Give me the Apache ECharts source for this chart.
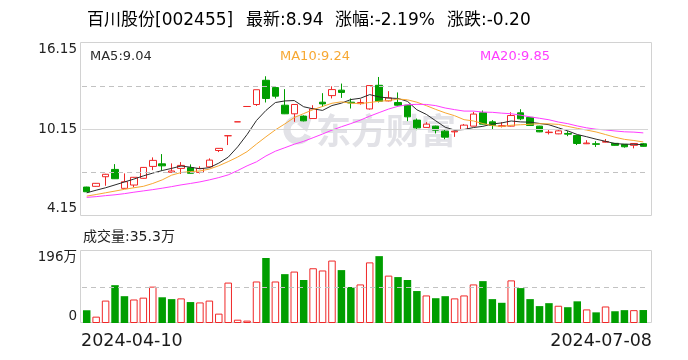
<!DOCTYPE html>
<html>
<head>
<meta charset="utf-8">
<script src="https://cdn.jsdelivr.net/npm/echarts@6/dist/echarts.min.js"></script>
<style>
html,body{margin:0;padding:0;background:#fff;}
#main{width:688px;height:360px;}
</style>
</head>
<body>
<div id="main"></div>
<script>
// ---------- data ----------
const stockName = '百川股份';
const stockCode = '002455';
const dates = ['2024-04-10','2024-04-11','2024-04-12','2024-04-15','2024-04-16','2024-04-17','2024-04-18','2024-04-19','2024-04-22','2024-04-23',
'2024-04-24','2024-04-25','2024-04-26','2024-04-29','2024-04-30','2024-05-06','2024-05-07','2024-05-08','2024-05-09','2024-05-10',
'2024-05-13','2024-05-14','2024-05-15','2024-05-16','2024-05-17','2024-05-20','2024-05-21','2024-05-22','2024-05-23','2024-05-24',
'2024-05-27','2024-05-28','2024-05-29','2024-05-30','2024-05-31','2024-06-03','2024-06-04','2024-06-05','2024-06-06','2024-06-07',
'2024-06-11','2024-06-12','2024-06-13','2024-06-14','2024-06-17','2024-06-18','2024-06-19','2024-06-20','2024-06-21','2024-06-24',
'2024-06-25','2024-06-26','2024-06-27','2024-06-28','2024-07-01','2024-07-02','2024-07-03','2024-07-04','2024-07-05','2024-07-08'];
const openP = [6.10,6.15,6.82,7.33,6.01,6.24,6.71,7.54,7.72,7.13, 7.40,7.45,7.12,7.51,8.65,9.68,10.65,11.72,11.86,13.55,
13.04,11.81,11.21,11.05,10.88,12.02,12.48,12.86,12.02,11.92, 11.55,13.20,12.11,12.00,11.81,10.77,10.26,10.35,10.00,9.95,
10.12,10.35,11.28,10.65,10.34,10.35,11.28,10.96,10.35,9.90, 9.81,9.84,9.70,9.12,9.12,9.23,9.15,9.08,9.01,9.12];
const closeP = [5.77,6.36,6.99,6.68,6.47,6.78,7.47,7.96,7.58,7.22, 7.61,7.06,7.40,7.98,8.80,9.68,10.65,11.72,12.89,12.28,
12.44,11.21,11.86,10.72,11.55,11.90,12.90,12.70,11.97,12.00, 13.18,12.09,12.32,11.81,11.00,10.23,10.49,10.07,9.58,10.00,
10.42,11.19,10.49,10.40,10.38,11.09,10.86,10.40,9.95,9.93, 10.02,9.79,9.14,9.17,9.08,9.28,9.01,8.91,9.14,8.94];
const highP = [6.12,6.38,7.02,7.70,7.05,6.80,7.50,8.17,8.40,7.75, 7.84,7.68,7.55,8.10,8.82,9.68,10.65,11.72,12.89,13.83,
13.06,12.93,11.88,11.10,11.81,12.65,13.13,13.32,12.28,12.23, 13.20,13.78,12.79,12.70,11.83,10.88,10.63,10.38,10.10,10.02,
10.50,11.35,11.44,10.77,10.63,11.32,11.53,10.98,10.37,10.12, 10.15,10.00,9.72,9.37,9.30,9.45,9.17,9.10,9.16,9.17];
const lowP = [5.75,6.13,6.19,6.66,5.99,6.08,6.69,7.28,7.25,7.10, 7.01,7.04,7.05,7.45,8.54,9.03,10.65,11.72,11.76,12.00,
12.28,11.19,10.65,10.68,10.85,11.69,12.28,12.32,11.58,11.85, 11.50,12.00,12.08,11.78,10.70,10.07,10.24,9.84,9.44,9.60,
10.10,10.33,10.47,10.12,10.26,10.33,10.77,10.38,9.93,9.77, 9.79,9.65,9.03,9.10,8.90,9.21,8.99,8.85,8.80,8.92];
// volume, unit 万
const volume = [34.7,17.3,61,103,73,64,69,99,70,65, 67,57,56,61,25.5,110,9,6.5,113,177,
113,133,140,117,149,143,170,144,98,105, 165,182,129,125,117,87,75,67.5,73,67,
75,105,114,65,55,116,95,65,46,54, 47,43,59,37,29,45,32,35,35,35.3];
// moving-average values before enough history exists inside the window
const ma5Head = [5.70,5.88,6.05,6.25];
const ma10Head = [5.47,5.58,5.70,5.82,5.94,6.05,6.15,6.35,6.60];
const ma20Head = [5.38,5.43,5.50,5.56,5.64,5.74,5.83,5.92,6.02,6.13,6.25,6.35,6.46,6.60,6.76,6.95,7.25,7.58,7.86];
const maLegendValues = ['9.04','9.24','9.85'];
const priceLabelTicks = [4.15, 10.15, 16.15];
const priceGridLines = [7.15, 10.15, 13.15];
const volumeLabelTicks = [0, 196];
const volumeGridLines = [98];

// ---------- styles ----------
const RED = '#f02828', GREEN = '#009e00';
const MA_COLORS = ['#2b2b2b', '#f7a833', '#ff3cff'];
const FONT = "'DejaVu Sans','Noto Sans CJK SC',sans-serif";

function ma(n, head) {
  return closeP.map((c, i) => {
    if (i < n - 1) return head[i];
    let s = 0;
    for (let k = i - n + 1; k <= i; k++) s += closeP[k];
    return +(s / n).toFixed(3);
  });
}
const ma5 = ma(5, ma5Head), ma10 = ma(10, ma10Head), ma20 = ma(20, ma20Head);

const kData = openP.map((o, i) => [o, closeP[i], lowP[i], highP[i]]);
const volData = volume.map((v, i) => {
  const ref = i === 0 ? openP[0] : closeP[i - 1];
  const up = closeP[i] > ref;
  return {
    value: v,
    itemStyle: up ? { color: '#ffffff', borderColor: RED, borderWidth: 1 }
                  : { color: GREEN, borderColor: GREEN, borderWidth: 0 }
  };
});

const last = closeP.length - 1;
const chg = closeP[last] - closeP[last - 1];
const pct = chg / closeP[last - 1] * 100;
const fmtSigned = (v, d) => (v < 0 ? '-' : '') + Math.abs(v).toFixed(d);

const chart = echarts.init(document.getElementById('main'), null, { renderer: 'canvas' });

const titleRich = {
  k: { fontFamily: FONT, fontSize: 17, color: '#1a1a1a' },
  v: { fontFamily: FONT, fontSize: 17, color: '#0aa00a' }
};
const WM = '#e2e2e7';
const gridLineStyle = v => ({ color: v === 10.15 ? '#d6d6d6' : '#c2c2c2', width: 1, type: v === 10.15 ? 'solid' : [5, 4] });

const option = {
  animation: false,
  backgroundColor: '#ffffff',
  textStyle: { fontFamily: FONT },
  grid: [
    { left: 82, width: 566, top: 43, height: 172, show: false },
    { left: 82, width: 566, top: 251, height: 72, show: false },
    { left: 81, width: 571, top: 322, height: 1, show: false }
  ],
  xAxis: [
    { type: 'category', gridIndex: 0, data: dates, boundaryGap: true,
      axisLine: { show: false }, axisTick: { show: false }, axisLabel: { show: false }, splitLine: { show: false } },
    { type: 'category', gridIndex: 1, data: dates, boundaryGap: true,
      axisLine: { show: false }, axisTick: { show: false }, axisLabel: { show: false }, splitLine: { show: false } },
    { type: 'value', gridIndex: 2, min: 0, max: 1, interval: 1,
      axisLine: { show: false }, axisTick: { show: false }, splitLine: { show: false },
      axisLabel: { formatter: v => v === 0 ? dates[0] : dates[last], alignMinLabel: 'left', alignMaxLabel: 'right',
        fontSize: 17.5, color: '#1a1a1a', margin: 10, fontFamily: FONT } }
  ],
  yAxis: [
    { type: 'value', gridIndex: 0, min: priceLabelTicks[0], max: priceLabelTicks[priceLabelTicks.length - 1],
      axisLine: { show: false }, axisTick: { show: false }, splitLine: { show: false },
      axisLabel: { customValues: priceLabelTicks, formatter: v => v.toFixed(2), margin: 5, fontSize: 13.5, color: '#222',
        verticalAlignMinLabel: 'bottom', verticalAlignMaxLabel: 'top', fontFamily: FONT } },
    { type: 'value', gridIndex: 1, min: volumeLabelTicks[0], max: volumeLabelTicks[1],
      axisLine: { show: false }, axisTick: { show: false }, splitLine: { show: false },
      axisLabel: { customValues: volumeLabelTicks, formatter: v => v === 0 ? '0' : v + '万', margin: 5, fontSize: 13.5, color: '#222',
        verticalAlignMinLabel: 'bottom', verticalAlignMaxLabel: 'top', fontFamily: FONT } },
    { type: 'value', gridIndex: 2, show: false }
  ],
  series: [
    { type: 'candlestick', xAxisIndex: 0, yAxisIndex: 0, data: kData, barWidth: 7,
      itemStyle: { color: '#ffffff', color0: GREEN, borderColor: RED, borderColor0: GREEN, borderWidth: 1 },
      markLine: { silent: true, symbol: 'none', label: { show: false },
        data: priceGridLines.map(v => ({ yAxis: v, lineStyle: gridLineStyle(v) })) },
      z: 3 },
    { type: 'line', xAxisIndex: 0, yAxisIndex: 0, data: ma5, showSymbol: false, symbol: 'none',
      lineStyle: { color: MA_COLORS[0], width: 1 }, z: 4 },
    { type: 'line', xAxisIndex: 0, yAxisIndex: 0, data: ma10, showSymbol: false, symbol: 'none',
      lineStyle: { color: MA_COLORS[1], width: 1 }, z: 4 },
    { type: 'line', xAxisIndex: 0, yAxisIndex: 0, data: ma20, showSymbol: false, symbol: 'none',
      lineStyle: { color: MA_COLORS[2], width: 1 }, z: 4 },
    { type: 'bar', xAxisIndex: 1, yAxisIndex: 1, data: volData, barWidth: 7.5,
      markLine: { silent: true, symbol: 'none', label: { show: false },
        data: volumeGridLines.map(v => ({ yAxis: v, lineStyle: gridLineStyle(v) })) },
      z: 3 }
  ],
  graphic: [
    // panel borders
    { type: 'rect', z: 1, shape: { x: 80.5, y: 42.5, width: 571, height: 173 }, style: { fill: 'none', stroke: '#d2d2d2', lineWidth: 1 } },
    { type: 'rect', z: 1, shape: { x: 80.5, y: 250.5, width: 571, height: 72 }, style: { fill: 'none', stroke: '#d2d2d2', lineWidth: 1 } },
    // watermark logo + text
    { type: 'arc', z: 0, shape: { cx: 298, cy: 130, r: 11, startAngle: Math.PI * 0.15, endAngle: Math.PI * 1.6 },
      style: { stroke: WM, fill: 'none', lineWidth: 7 } },
    { type: 'polygon', z: 0, shape: { points: [[297, 124], [314, 111], [307, 132]] }, style: { fill: WM } },
    { type: 'text', z: 0, x: 316, y: 131, style: { text: '东方财富', fontFamily: "'Noto Sans CJK SC'", fontSize: 35, fontWeight: 'bold',
      fill: WM, verticalAlign: 'middle' } },
    // title
    { type: 'text', z: 10, x: 87, y: 21, style: { text: '{k|' + stockName + '[' + stockCode + ']}', rich: titleRich, verticalAlign: 'middle' } },
    { type: 'text', z: 10, x: 246, y: 21, style: { text: '{k|最新:}{v|' + closeP[last].toFixed(2) + '}', rich: titleRich, verticalAlign: 'middle' } },
    { type: 'text', z: 10, x: 335, y: 21, style: { text: '{k|涨幅:}{v|' + fmtSigned(pct, 2) + '%}', rich: titleRich, verticalAlign: 'middle' } },
    { type: 'text', z: 10, x: 447, y: 21, style: { text: '{k|涨跌:}{v|' + fmtSigned(chg, 2) + '}', rich: titleRich, verticalAlign: 'middle' } },
    // MA legend
    { type: 'text', z: 10, x: 90, y: 57, style: { text: 'MA5:' + maLegendValues[0], fontFamily: FONT, fontSize: 13, fill: MA_COLORS[0], verticalAlign: 'middle' } },
    { type: 'text', z: 10, x: 280, y: 57, style: { text: 'MA10:' + maLegendValues[1], fontFamily: FONT, fontSize: 13, fill: MA_COLORS[1], verticalAlign: 'middle' } },
    { type: 'text', z: 10, x: 480, y: 57, style: { text: 'MA20:' + maLegendValues[2], fontFamily: FONT, fontSize: 13, fill: MA_COLORS[2], verticalAlign: 'middle' } },
    // volume caption
    { type: 'text', z: 10, x: 83, y: 237, style: { text: '成交量:' + volume[last] + '万', fontFamily: FONT, fontSize: 14, fill: '#222', verticalAlign: 'middle' } }
  ]
};
chart.setOption(option);
</script>
</body>
</html>
